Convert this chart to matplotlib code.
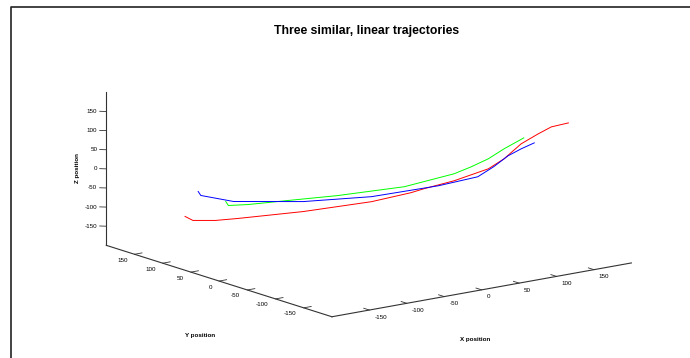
import matplotlib
matplotlib.use('Agg')
import matplotlib.pyplot as plt
from matplotlib.lines import Line2D
from mpl_toolkits.mplot3d import proj3d

plt.rcParams['font.family'] = ['Liberation Sans', 'DejaVu Sans']

title = 'Three similar, linear trajectories'
lim = (-200, 200)
ticks = [-150, -100, -50, 0, 50, 100, 150]

# trajectories (x, y, z)
red_x = [-140, -134, -117, -100, -50, 2, 32, 42, 65, 91, 103, 116, 129, 139, 152]
red_y = [140, 134, 117, 100, 50, -2, -32, -42, -65, -91, -103, -116, -129, -139, -152]
red_z = [-117.5, -127.3, -125.4, -118.3, -94.4, -62.6, -35.7, -24.1, -0.6, 33.6, 61.1, 101.8, 129.4, 148.8, 160.7]

green_x = [-109, -107, -92, -62, -24, 27, 65, 78, 91, 103, 118]
green_y = [109, 107, 92, 62, 24, -27, -65, -78, -91, -103, -118]
green_z = [-74.9, -85.1, -80.9, -67.0, -49.7, -20.6, 17.7, 37.4, 59.8, 87.3, 117.6]

blue_x = [-130, -128, -103, -50, 2, 53, 83, 95, 106, 116, 126]
blue_y = [130, 128, 103, 50, -2, -53, -83, -95, -106, -116, -126]
blue_z = [-51.1, -61.3, -74.2, -68.3, -49.5, -15.1, 11.9, 39.3, 69.3, 88.7, 105.5]

W, H = 690, 358
fig = plt.figure(figsize=(W / 100, H / 100), dpi=100)
ax = fig.add_axes([19 / W, -3.5 / H, 1, 1], projection='3d', proj_type='ortho')
ax.view_init(elev=13.8, azim=-127)
ax.set_box_aspect((1, 1, 0.42), zoom=1.5)
ax.set_axis_off()
ax.set_xlim(lim)
ax.set_ylim(lim)
ax.set_zlim(lim)

ax.plot(red_x, red_y, red_z, color='#ff0000', lw=0.7, clip_on=False)
ax.plot(green_x, green_y, green_z, color='#00ff00', lw=0.7, clip_on=False)
ax.plot(blue_x, blue_y, blue_z, color='#0000ff', lw=0.7, clip_on=False)

lo, hi = lim
ac = '#333333'
# axis lines
ax.plot([lo, lo], [hi, hi], [lo, hi], color=ac, lw=0.8, clip_on=False)
ax.plot([lo, lo], [hi, lo], [lo, lo], color=ac, lw=0.8, clip_on=False)
ax.plot([lo, hi], [lo, lo], [lo, lo], color=ac, lw=0.8, clip_on=False)
for t in ticks:
    ax.plot([lo, lo - 5], [hi, hi + 5], [t, t], color=ac, lw=0.6, clip_on=False)
    ax.plot([lo, lo + 10], [t, t], [lo, lo], color=ac, lw=0.6, clip_on=False)
    ax.plot([t, t], [lo, lo + 10], [lo, lo], color=ac, lw=0.6, clip_on=False)

# tick labels placed in 2D at the projected tick positions
fig.canvas.draw()
M = ax.get_proj()


def label(x, y, z, s, dx, dy, ha):
    px, py, _ = proj3d.proj_transform(x, y, z, M)
    fx, fy = ax.transData.transform((px, py))
    fig.text((fx + dx) / W, (fy + dy) / H, s, fontsize=4.5, ha=ha, va='center')


for t in ticks:
    label(lo, hi, t, str(t), -9, 0, 'right')
    label(lo, t, lo, str(t), -7, -6, 'right')
    label(t, lo, lo, str(t), 5, -7, 'left')

fig.text(78 / W, 1 - 168 / H, 'Z position', fontsize=4.5, fontweight='bold', rotation=90,
         ha='center', va='center')
fig.text(200 / W, 1 - 335 / H, 'Y position', fontsize=4.5, fontweight='bold', ha='center', va='center')
fig.text(475 / W, 1 - 340 / H, 'X position', fontsize=4.5, fontweight='bold', ha='center', va='center')
fig.text(367 / W, 1 - 31 / H, title, fontsize=8.8, fontweight='bold', ha='center', va='center')

# figure frame (top and left edges)
fig.add_artist(Line2D([11 / W, 11 / W, 1], [0, 1 - 7 / H, 1 - 7 / H],
                      color='#222222', lw=1.2))

fig.savefig('out.png', dpi=100)
